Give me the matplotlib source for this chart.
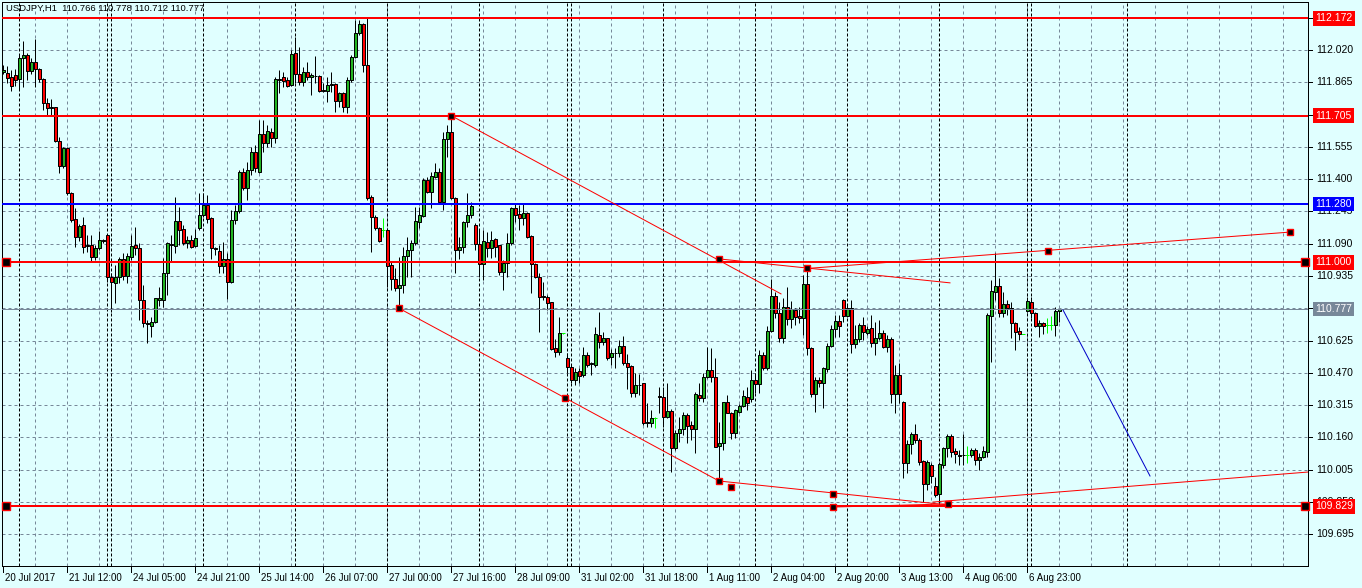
import numpy as np
import matplotlib
matplotlib.use("Agg")
import matplotlib.pyplot as plt
from matplotlib.transforms import blended_transform_factory

plt.rcParams['font.family'] = ['Liberation Sans', 'DejaVu Sans']
plt.rcParams['lines.scale_dashes'] = False

# ---------------------------------------------------------------
#  DATA  (USDJPY H1, bar index 0 = 20 Jul 2017 20:00)
# ---------------------------------------------------------------
SYMBOL = "USDJPY,H1"

opens = [
    111.915, 111.908, 111.890, 111.899, 111.879, 111.980, 111.996, 111.921, 111.961, 111.927,
    111.879, 111.764, 111.743, 111.745, 111.585, 111.465, 111.548, 111.332, 111.207, 111.121,
    111.179, 111.079, 111.084, 111.028, 111.068, 111.105, 111.131, 110.929, 110.903, 110.929,
    111.015, 110.935, 111.028, 111.084, 111.068, 110.820, 110.708, 110.697, 110.713, 110.820,
    110.820, 110.948, 111.084, 111.081, 111.201, 111.159, 111.095, 111.108, 111.081, 111.167,
    111.228, 111.276, 111.212, 111.065, 111.057, 110.985, 111.015, 110.908, 111.204, 111.249,
    111.436, 111.358, 111.444, 111.530, 111.436, 111.615, 111.572, 111.625, 111.596, 111.881,
    111.889, 111.876, 111.852, 112.004, 111.905, 111.868, 111.914, 111.889, 111.895, 111.895,
    111.825, 111.825, 111.853, 111.857, 111.777, 111.812, 111.748, 111.876, 111.985, 112.100,
    112.145, 111.947, 111.313, 111.220, 111.167, 111.156, 111.156, 110.988, 110.919, 110.876,
    110.892, 111.031, 111.060, 111.095, 111.196, 111.223, 111.396, 111.340, 111.412, 111.433,
    111.289, 111.591, 111.625, 111.308, 111.060, 111.073, 111.193, 111.228, 111.180, 111.089,
    110.993, 111.097, 111.068, 111.111, 111.083, 110.953, 110.999, 111.092, 111.260, 111.231,
    111.215, 111.236, 111.127, 110.993, 110.932, 110.836, 110.833, 110.809, 110.588, 110.572,
    110.660, 110.540, 110.500, 110.436, 110.481, 110.460, 110.556, 110.511, 110.508, 110.652,
    110.620, 110.636, 110.548, 110.564, 110.564, 110.599, 110.516, 110.503, 110.372, 110.412,
    110.423, 110.231, 110.231, 110.252, 110.356, 110.356, 110.260, 110.287, 110.111, 110.180,
    110.199, 110.268, 110.220, 110.199, 110.364, 110.348, 110.449, 110.484, 110.452, 110.121,
    110.132, 110.329, 110.279, 110.180, 110.284, 110.311, 110.356, 110.343, 110.436, 110.415,
    110.556, 110.492, 110.673, 110.839, 110.759, 110.639, 110.785, 110.727, 110.772, 110.743,
    110.732, 110.897, 110.588, 110.369, 110.436, 110.420, 110.487, 110.599, 110.679, 110.719,
    110.820, 110.743, 110.780, 110.609, 110.631, 110.700, 110.663, 110.684, 110.612, 110.636,
    110.663, 110.596, 110.631, 110.367, 110.460, 110.329, 110.036, 110.127, 110.177, 110.148,
    110.047, 109.935, 110.028, 109.929, 109.887, 110.028, 110.108, 110.167, 110.095, 110.075,
    110.075, 110.075, 110.075, 110.100, 110.052, 110.065, 110.092, 110.743, 110.860, 110.887,
    110.756, 110.801, 110.780, 110.708, 110.671, 110.655, 110.767, 110.812, 110.756, 110.697,
    110.711, 110.700, 110.700, 110.700, 110.766,
]

highs = [
    111.948, 111.945, 111.924, 111.927, 111.996, 112.065, 112.006, 111.980, 112.074, 111.934,
    111.886, 111.788, 111.783, 111.746, 111.601, 111.556, 111.556, 111.340, 111.260, 111.185,
    111.220, 111.132, 111.132, 111.084, 111.153, 111.111, 111.132, 110.948, 110.988, 111.028,
    111.044, 111.047, 111.132, 111.172, 111.092, 110.892, 110.724, 110.740, 110.831, 110.884,
    111.020, 111.100, 111.132, 111.316, 111.265, 111.180, 111.127, 111.132, 111.159, 111.335,
    111.335, 111.324, 111.220, 111.076, 111.084, 111.100, 111.044, 111.252, 111.276, 111.444,
    111.452, 111.482, 111.556, 111.564, 111.684, 111.684, 111.660, 111.644, 111.892, 111.924,
    111.916, 111.889, 112.020, 112.084, 112.036, 111.940, 111.964, 111.908, 111.991, 111.900,
    111.860, 111.892, 111.916, 111.860, 111.820, 111.820, 111.892, 111.996, 112.164, 112.165,
    112.151, 112.172, 111.324, 111.228, 111.172, 111.212, 111.156, 111.004, 110.974, 111.028,
    111.076, 111.124, 111.108, 111.268, 111.268, 111.404, 111.412, 111.436, 111.476, 111.452,
    111.628, 111.660, 111.705, 111.316, 111.124, 111.201, 111.332, 111.292, 111.188, 111.156,
    111.156, 111.148, 111.151, 111.116, 111.084, 111.012, 111.140, 111.268, 111.284, 111.276,
    111.284, 111.244, 111.132, 110.999, 110.948, 110.908, 110.844, 110.812, 110.631, 110.740,
    110.662, 110.564, 110.508, 110.494, 110.494, 110.596, 110.572, 110.524, 110.692, 110.764,
    110.668, 110.636, 110.583, 110.588, 110.628, 110.647, 110.561, 110.508, 110.468, 110.465,
    110.423, 110.324, 110.292, 110.260, 110.404, 110.404, 110.420, 110.295, 110.196, 110.260,
    110.284, 110.276, 110.241, 110.380, 110.423, 110.468, 110.596, 110.588, 110.540, 110.236,
    110.332, 110.364, 110.284, 110.295, 110.321, 110.388, 110.404, 110.484, 110.468, 110.580,
    110.572, 110.695, 110.919, 110.860, 110.812, 110.828, 110.881, 110.815, 110.780, 110.788,
    110.940, 110.972, 110.596, 110.452, 110.452, 110.500, 110.612, 110.700, 110.748, 110.748,
    110.823, 110.796, 110.820, 110.700, 110.708, 110.740, 110.695, 110.748, 110.716, 110.724,
    110.676, 110.652, 110.644, 110.508, 110.516, 110.337, 110.148, 110.188, 110.225, 110.156,
    110.052, 110.052, 110.036, 109.972, 110.044, 110.116, 110.177, 110.177, 110.108, 110.100,
    110.177, 110.119, 110.108, 110.108, 110.084, 110.119, 110.756, 110.916, 111.044, 110.924,
    110.860, 110.820, 110.812, 110.716, 110.692, 110.655, 110.836, 110.836, 110.764, 110.724,
    110.716, 110.732, 110.743, 110.785, 110.778,
]

lows = [
    111.905, 111.860, 111.825, 111.847, 111.833, 111.844, 111.876, 111.905, 111.844, 111.868,
    111.732, 111.708, 111.708, 111.580, 111.428, 111.452, 111.324, 111.196, 111.076, 111.105,
    111.044, 111.052, 111.004, 111.012, 111.060, 111.095, 110.908, 110.764, 110.807, 110.900,
    110.916, 110.900, 111.012, 111.036, 110.724, 110.692, 110.615, 110.644, 110.708, 110.791,
    110.788, 110.844, 111.004, 111.044, 111.084, 111.084, 111.068, 111.068, 111.076, 111.156,
    111.220, 111.188, 111.015, 111.036, 110.948, 110.948, 110.823, 110.900, 111.185, 111.236,
    111.348, 111.300, 111.420, 111.434, 111.428, 111.532, 111.556, 111.556, 111.572, 111.815,
    111.841, 111.841, 111.847, 111.860, 111.852, 111.847, 111.876, 111.804, 111.863, 111.820,
    111.820, 111.772, 111.820, 111.724, 111.748, 111.724, 111.716, 111.868, 111.980, 112.092,
    111.916, 111.300, 111.052, 111.156, 111.100, 111.124, 110.884, 110.868, 110.865, 110.780,
    110.852, 110.932, 110.932, 111.084, 111.164, 111.220, 111.332, 111.260, 111.404, 111.284,
    111.252, 111.508, 111.303, 110.951, 111.016, 111.044, 111.172, 111.212, 111.060, 110.932,
    110.916, 111.028, 111.020, 111.028, 110.940, 110.868, 110.932, 111.084, 111.196, 111.156,
    111.180, 111.116, 110.855, 110.924, 110.668, 110.820, 110.772, 110.580, 110.545, 110.556,
    110.657, 110.468, 110.420, 110.412, 110.422, 110.452, 110.500, 110.460, 110.500, 110.588,
    110.604, 110.532, 110.508, 110.492, 110.548, 110.508, 110.391, 110.356, 110.356, 110.364,
    110.220, 110.212, 110.212, 110.204, 110.276, 110.212, 110.252, 109.996, 110.100, 110.140,
    110.172, 110.132, 110.148, 110.087, 110.337, 110.332, 110.444, 110.428, 110.113, 109.950,
    110.100, 110.276, 110.151, 110.156, 110.276, 110.308, 110.292, 110.332, 110.372, 110.372,
    110.484, 110.484, 110.668, 110.732, 110.620, 110.615, 110.700, 110.684, 110.700, 110.708,
    110.652, 110.556, 110.356, 110.284, 110.404, 110.300, 110.476, 110.596, 110.644, 110.644,
    110.716, 110.740, 110.567, 110.588, 110.620, 110.628, 110.652, 110.596, 110.556, 110.628,
    110.588, 110.572, 110.324, 110.276, 110.324, 109.964, 109.988, 110.081, 110.132, 110.028,
    109.852, 109.908, 109.940, 109.876, 109.835, 110.012, 110.068, 110.068, 110.036, 110.028,
    110.028, 110.036, 110.068, 110.028, 110.004, 110.060, 110.068, 110.524, 110.820, 110.737,
    110.737, 110.748, 110.636, 110.580, 110.628, 110.655, 110.764, 110.732, 110.692, 110.641,
    110.657, 110.660, 110.676, 110.647, 110.712,
]

closes = [
    111.925, 111.884, 111.849, 111.876, 111.980, 111.996, 111.921, 111.961, 111.927, 111.879,
    111.764, 111.740, 111.742, 111.585, 111.465, 111.548, 111.332, 111.204, 111.121, 111.175,
    111.076, 111.082, 111.028, 111.068, 111.108, 111.108, 110.929, 110.908, 110.929, 111.015,
    110.935, 111.031, 111.081, 111.068, 110.820, 110.708, 110.705, 110.713, 110.828, 110.828,
    110.948, 111.092, 111.086, 111.201, 111.156, 111.095, 111.108, 111.076, 111.116, 111.228,
    111.276, 111.209, 111.068, 111.067, 110.985, 111.015, 110.908, 111.204, 111.249, 111.436,
    111.359, 111.444, 111.530, 111.454, 111.615, 111.572, 111.631, 111.596, 111.881, 111.878,
    111.873, 111.847, 112.001, 111.905, 111.868, 111.914, 111.889, 111.899, 111.893, 111.823,
    111.823, 111.852, 111.855, 111.777, 111.812, 111.748, 111.876, 111.985, 112.100, 112.145,
    111.947, 111.311, 111.220, 111.167, 111.103, 111.156, 110.985, 110.919, 110.876, 110.892,
    111.031, 111.060, 111.095, 111.199, 111.228, 111.396, 111.340, 111.415, 111.433, 111.289,
    111.591, 111.625, 111.308, 111.060, 111.073, 111.193, 111.228, 111.271, 111.089, 110.993,
    111.102, 111.068, 111.108, 111.076, 110.956, 110.999, 111.092, 111.260, 111.228, 111.215,
    111.236, 111.124, 110.993, 110.932, 110.833, 110.834, 110.807, 110.583, 110.572, 110.660,
    110.660, 110.500, 110.436, 110.476, 110.455, 110.556, 110.508, 110.513, 110.655, 110.620,
    110.636, 110.543, 110.564, 110.563, 110.599, 110.516, 110.500, 110.372, 110.412, 110.410,
    110.228, 110.230, 110.252, 110.252, 110.354, 110.257, 110.287, 110.111, 110.183, 110.201,
    110.268, 110.217, 110.199, 110.367, 110.348, 110.452, 110.484, 110.452, 110.116, 110.132,
    110.329, 110.279, 110.180, 110.292, 110.311, 110.359, 110.327, 110.436, 110.415, 110.556,
    110.492, 110.671, 110.839, 110.759, 110.639, 110.785, 110.727, 110.775, 110.740, 110.732,
    110.897, 110.588, 110.369, 110.436, 110.420, 110.492, 110.599, 110.679, 110.719, 110.695,
    110.743, 110.780, 110.607, 110.631, 110.700, 110.668, 110.679, 110.612, 110.636, 110.660,
    110.593, 110.631, 110.367, 110.460, 110.367, 110.036, 110.127, 110.177, 110.148, 110.044,
    109.935, 110.041, 109.977, 109.884, 110.031, 110.108, 110.167, 110.092, 110.079, 110.073,
    110.074, 110.075, 110.100, 110.052, 110.068, 110.097, 110.748, 110.863, 110.887, 110.759,
    110.801, 110.780, 110.708, 110.668, 110.655, 110.655, 110.815, 110.756, 110.697, 110.708,
    110.697, 110.700, 110.700, 110.767, 110.777,
]

# time-axis labels, one every 16 bars
time_labels = ["20 Jul 2017", "21 Jul 12:00", "24 Jul 05:00", "24 Jul 21:00",
               "25 Jul 14:00", "26 Jul 07:00", "27 Jul 00:00", "27 Jul 16:00",
               "28 Jul 09:00", "31 Jul 02:00", "31 Jul 18:00", "1 Aug 11:00",
               "2 Aug 04:00", "2 Aug 20:00", "3 Aug 13:00", "4 Aug 06:00",
               "6 Aug 23:00"]
LABEL_STEP = 16

# day / week separators (bar index)
separators = [4, 26, 27, 50, 73, 96, 119, 141, 142, 165, 188, 211, 234, 256, 257, 281]

# price grid
grid_prices = [109.695, 109.850, 110.005, 110.160, 110.315, 110.470, 110.625,
               110.780, 110.935, 111.090, 111.245, 111.400, 111.555, 111.710,
               111.865, 112.020, 112.175]

# horizontal levels drawn on the chart
red_levels = [112.172, 111.705, 111.000, 109.829]
blue_level = 111.280
bid_price = 110.777
marked_levels = [111.000, 109.829]      # levels with end handles

# trend lines: ((bar, price), (bar, price))
red_trends = [
    ((112.0, 111.705), (194.5, 110.849)),
    ((179.0, 111.017), (236.75, 110.902)),
    ((201.0, 110.971), (322.0, 111.146)),
    ((99.0, 110.780), (179.0, 109.951)),
    ((179.0, 109.951), (236.25, 109.836)),
    ((207.5, 109.826), (236.25, 109.841)),
    ((232.5, 109.850), (326.25, 109.994)),
]
blue_trend = ((265.0, 110.772), (286.75, 109.975))
anchor_bars = [112, 179, 201, 261.25, 321.75, 99, 140.5, 179, 182, 207.5, 207.5, 236.25]
anchor_prices = [111.705, 111.017, 110.971, 111.055, 111.146, 110.780, 110.350,
                 109.951, 109.922, 109.889, 109.826, 109.841]

# ---------------------------------------------------------------
#  STYLE
# ---------------------------------------------------------------
W, H = 1362, 588
BG = '#E0FFFF'
GRID = '#778899'
BULL = '#22B422'
BEAR = '#FF0000'
DOJI = '#00FF00'
PX = 0.72          # one pixel in points at dpi 100

fig = plt.figure(figsize=(W / 100, H / 100), dpi=100, facecolor=BG)
ax_left, ax_right, ax_top, ax_bot = 2, 1308, 2, 566
ax = fig.add_axes([ax_left / W, 1 - ax_bot / H,
                   (ax_right - ax_left) / W, (ax_bot - ax_top) / H])
ax.set_facecolor(BG)
ax.set_xlim(-0.25, 326.25)
ax.set_ylim(109.543, 112.250)
ax.set_xticks([])
ax.set_yticks([])
for s in ax.spines.values():
    s.set_color('black')
    s.set_linewidth(PX)

# grid
for p in grid_prices:
    ax.axhline(p, color=GRID, lw=PX, dashes=(3 * PX, 3 * PX), zorder=1)
for b in range(8, 327, 8):
    ax.axvline(b, color=GRID, lw=PX, dashes=(3 * PX, 3 * PX), zorder=1)
for b in separators:
    ax.axvline(b, color='black', lw=PX, dashes=(3 * PX, 2 * PX), zorder=1.5)

# candles
o = np.array(opens); h = np.array(highs); l = np.array(lows); c = np.array(closes)
idx = np.arange(len(o))
doji = o == c
up = c > o
dn = c < o
ax.vlines(idx[~doji], l[~doji], h[~doji], color='black', lw=PX, zorder=3)
ax.vlines(idx[doji], l[doji], h[doji], color=DOJI, lw=PX, zorder=3)
ax.hlines(o[doji], idx[doji] - 0.4, idx[doji] + 0.4, color=DOJI, lw=PX, zorder=3)
lo = np.minimum(o, c)
hh = np.maximum(np.abs(c - o), 0.004)
ax.bar(idx[up], hh[up], bottom=lo[up], width=0.75, color=BULL,
       edgecolor='black', linewidth=PX, zorder=4)
ax.bar(idx[dn], hh[dn], bottom=lo[dn], width=0.75, color=BEAR,
       edgecolor='black', linewidth=PX, zorder=4)

# levels
for p in red_levels:
    ax.axhline(p, color='red', lw=2 * PX, zorder=5)
ax.axhline(blue_level, color='#0000FF', lw=2 * PX, zorder=5)
ax.axhline(bid_price, color=GRID, lw=PX, zorder=5)
for p in marked_levels:
    ax.plot([0.75, 325.5], [p, p], ls='none', marker='s', ms=5.5,
            mfc='black', mec='red', mew=1.0, zorder=6, clip_on=False)

# trend lines
for (b0, p0), (b1, p1) in red_trends:
    ax.plot([b0, b1], [p0, p1], color='red', lw=PX, zorder=5)
(b0, p0), (b1, p1) = blue_trend
ax.plot([b0, b1], [p0, p1], color='#0000C8', lw=PX, zorder=5)
ax.plot(anchor_bars, anchor_prices, ls='none', marker='s', ms=4.2,
        mfc='black', mec='red', mew=1.0, zorder=6)

# right price scale
tr_r = blended_transform_factory(fig.transFigure, ax.transData)
for p in grid_prices:
    ax.plot([ax_right / W, (ax_right + 4) / W], [p, p], color='black', lw=PX,
            transform=tr_r, clip_on=False)
    fig.text(1316 / W, p, f"{p:.3f}", transform=tr_r, fontsize=7.5,
             va='center', ha='left', color='black')

boxes = [(112.172, 'red'), (111.705, 'red'), (111.280, '#0000FF'),
         (111.000, 'red'), (bid_price, GRID), (109.829, 'red')]
for p, col in boxes:
    fig.text(1315 / W, p, f"{p:.3f}", transform=tr_r, fontsize=7.5,
             va='center', ha='left', color='white', zorder=10,
             bbox=dict(boxstyle='square,pad=0.22', fc=col, ec='none'))

# time scale
tr_b = blended_transform_factory(ax.transData, fig.transFigure)
for k, lab in enumerate(time_labels):
    b = k * LABEL_STEP
    xb = max(b, -0.25)
    ax.plot([xb, xb], [1 - 567 / H, 1 - 572 / H], color='black', lw=PX,
            transform=tr_b, clip_on=False)
    fig.text(xb + 0.4, 1 - 578 / H, lab, transform=tr_b, fontsize=7,
             va='center', ha='left', color='black')

# header
fig.text(6 / W, 1 - 8 / H,
         f"{SYMBOL}  {o[-1]:.3f} {h[-1]:.3f} {l[-1]:.3f} {c[-1]:.3f}",
         fontsize=6.8, va='center', ha='left', color='black')

fig.savefig('out.png', dpi=100, facecolor=BG)
